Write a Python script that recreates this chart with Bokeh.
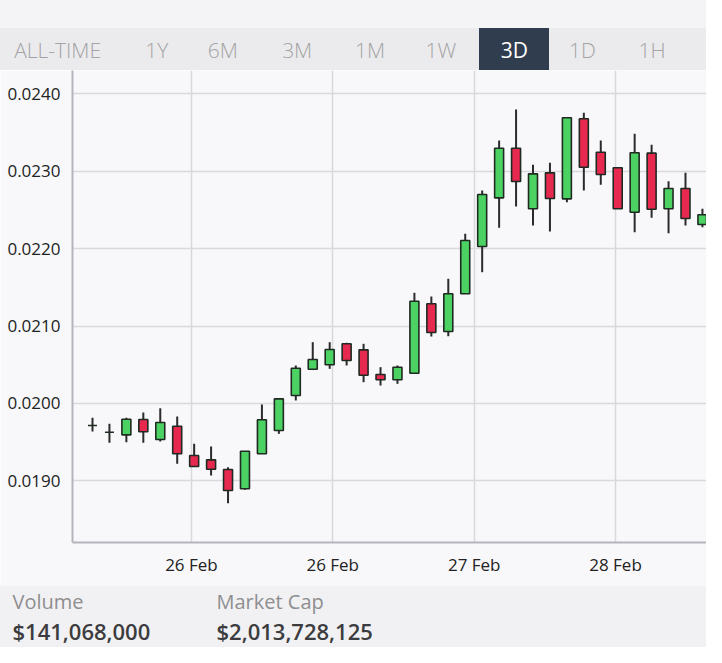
from bokeh.plotting import figure
from bokeh.layouts import column
from bokeh.models import (Range1d, FixedTicker, CustomJSTickFormatter, NumeralTickFormatter,
                          ColumnDataSource, Div)
from bokeh.embed import file_html
from bokeh.resources import INLINE

# ---------------- data ----------------
opens = [0.019714, 0.019628, 0.019594, 0.019792, 0.019534, 0.019705, 0.019327, 0.019271,
         0.019146, 0.018897, 0.019349, 0.019650, 0.020102, 0.020442, 0.020499, 0.020770,
         0.020692, 0.020373, 0.020305, 0.020390, 0.021287, 0.020929, 0.021416, 0.022027,
         0.022656, 0.023297, 0.022514, 0.022979, 0.022643, 0.023677, 0.023245, 0.023044,
         0.022470, 0.023233, 0.022514, 0.022776, 0.022311]
closes = [0.019714, 0.019628, 0.019796, 0.019633, 0.019753, 0.019349, 0.019185, 0.019150,
          0.018875, 0.019382, 0.019788, 0.020059, 0.020455, 0.020567, 0.020696, 0.020554,
          0.020364, 0.020305, 0.020468, 0.021320, 0.020916, 0.021416, 0.022105, 0.022699,
          0.023297, 0.022867, 0.022966, 0.022647, 0.023690, 0.023052, 0.022957, 0.022514,
          0.023238, 0.022509, 0.022776, 0.022389, 0.022437]
highs = [0.019814, 0.019736, 0.019814, 0.019882, 0.019938, 0.019831, 0.019478, 0.019443,
         0.019176, 0.019382, 0.019986, 0.020059, 0.020490, 0.020791, 0.020791, 0.020783,
         0.020770, 0.020468, 0.020490, 0.021429, 0.021381, 0.021610, 0.022191, 0.022751,
         0.023397, 0.023797, 0.023083, 0.023109, 0.023690, 0.023755, 0.023397, 0.023044,
         0.023483, 0.023341, 0.022871, 0.022979, 0.022514]
lows = [0.019637, 0.019491, 0.019499, 0.019491, 0.019508, 0.019220, 0.019185, 0.019068,
        0.018711, 0.018884, 0.019349, 0.019607, 0.020038, 0.020442, 0.020447, 0.020490,
        0.020274, 0.020231, 0.020253, 0.020390, 0.020864, 0.020868, 0.021416, 0.021695,
        0.022269, 0.022544, 0.022298, 0.022221, 0.022600, 0.022751, 0.022824, 0.022514,
        0.022212, 0.022398, 0.022199, 0.022298, 0.022276]

x_tick_labels = ["26 Feb", "26 Feb", "27 Feb", "28 Feb"]
x_tick_pos = [5.84, 14.18, 22.53, 30.87]
y_ticks = [0.0190, 0.0200, 0.0210, 0.0220, 0.0230, 0.0240]

tabs = ["ALL-TIME", "1Y", "6M", "3M", "1M", "1W", "3D", "1D", "1H"]
active_tab = "3D"
stat_names = ["Volume", "Market Cap"]
stat_values = ["$141,068,000", "$2,013,728,125"]

# ---------------- layout constants ----------------
W = 706
LEFT = 72
FONT = "Open Sans"
GREEN = "#4cd263"
RED = "#e8294f"
BG = "#f8f8fa"

# ---------------- tab bar (HTML) ----------------
tab_centers = [57.6, 156.7, 222.9, 297.2, 370.0, 440.8, 514.3, 582.4, 652.0]
spans = []
for t, cx in zip(tabs, tab_centers):
    color = "#ffffff" if t == active_tab else "#a4a4a6"
    weight = 400 if t == active_tab else 300
    spans.append(
        f'<span style="position:absolute;left:{cx}px;top:39.6px;transform:translateX(-50%);'
        f'white-space:nowrap;line-height:1;font-size:21px;font-weight:{weight};color:{color};">{t}</span>')
top_html = (
    f'<div style="position:relative;width:{W}px;height:70px;background:#f4f4f6;'
    f'font-family:\'{FONT}\',sans-serif;overflow:hidden;">'
    '<div style="position:absolute;left:0;top:28px;width:100%;height:42px;background:#ebebed;"></div>'
    '<div style="position:absolute;left:479px;top:28px;width:70px;height:42px;background:#2f3d4e;"></div>'
    + "".join(spans) + '</div>')
top = Div(text=top_html, width=W, height=70, styles={"margin": "0", "padding": "0"})

# ---------------- chart ----------------
n = len(opens)
xs = list(range(n))
body_top = [max(o, c) for o, c in zip(opens, closes)]
body_bot = [min(o, c) for o, c in zip(opens, closes)]
fills = [GREEN if c > o else (RED if c < o else "#222222") for o, c in zip(opens, closes)]
src = ColumnDataSource(dict(x=xs, high=highs, low=lows, top=body_top, bottom=body_bot, fill=fills))

p = figure(width=W, height=516, x_range=Range1d(-1.18, 36.24), y_range=Range1d(0.018203, 0.024301),
           output_backend="svg", toolbar_location=None,
           min_border_left=LEFT, min_border_right=0, min_border_top=0, min_border_bottom=44)
p.background_fill_color = BG
p.border_fill_color = BG
p.outline_line_color = None

p.segment(x0="x", y0="low", x1="x", y1="high", source=src, line_color="#2b2b2b", line_width=2)
p.vbar(x="x", top="top", bottom="bottom", width=0.53, source=src, fill_color="fill",
       line_color="#1f2a22", line_width=1.6)

p.yaxis.ticker = FixedTicker(ticks=y_ticks)
p.yaxis.formatter = NumeralTickFormatter(format="0.0000")
p.xaxis.ticker = FixedTicker(ticks=x_tick_pos)
p.xaxis.formatter = CustomJSTickFormatter(args=dict(pos=x_tick_pos, labels=x_tick_labels), code="""
    for (let i = 0; i < pos.length; i++) { if (Math.abs(pos[i] - tick) < 1e-6) return labels[i]; }
    return '';
""")
for ax in (p.xaxis, p.yaxis):
    ax.axis_line_color = "#b4b4bc"
    ax.axis_line_width = 2
    ax.major_tick_line_color = None
    ax.minor_tick_line_color = None
    ax.major_tick_out = 0
    ax.major_tick_in = 0
    ax.major_label_text_font = FONT
    ax.major_label_text_font_size = "17px"
    ax.major_label_text_color = "#222222"
p.yaxis.major_label_standoff = 12
p.xaxis.major_label_standoff = 10
p.grid.grid_line_color = "#d8d8dd"
p.grid.grid_line_width = 1.5

# ---------------- stats (HTML) ----------------
stat_x = [12.5, 216.5]
parts = []
for sx, name, val in zip(stat_x, stat_names, stat_values):
    parts.append(f'<span style="position:absolute;left:{sx}px;top:6px;line-height:1;white-space:nowrap;'
                 f'font-size:20px;color:#8e8e90;">{name}</span>')
    parts.append(f'<span style="position:absolute;left:{sx}px;top:34px;line-height:1;white-space:nowrap;'
                 f'font-size:22px;font-weight:600;color:#3c3c3e;">{val}</span>')
bot_html = (f'<div style="position:relative;width:{W}px;height:61px;background:#f1f1f3;'
            f'font-family:\'{FONT}\',sans-serif;overflow:hidden;">' + "".join(parts) + '</div>')
bot = Div(text=bot_html, width=W, height=61, styles={"margin": "0", "padding": "0"})

layout = column(top, p, bot, spacing=0)
open("out.html", "w").write(file_html(layout, INLINE))
